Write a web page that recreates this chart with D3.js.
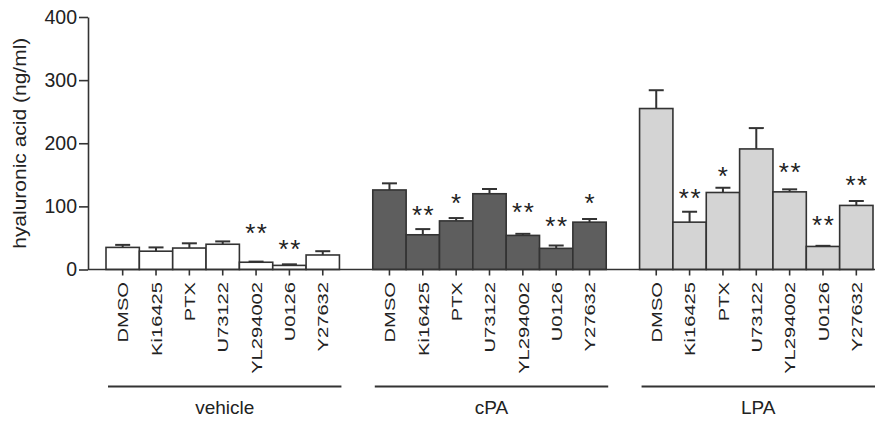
<!DOCTYPE html>
<html>
<head>
<meta charset="utf-8">
<script src="https://cdn.jsdelivr.net/npm/d3@7"></script>
<style>
body { margin: 0; background: #fff; }
text { font-family: "Liberation Sans", Arial, sans-serif; fill: #222; }
</style>
</head>
<body>
<script>
var w = 875;
var h = 422;

// data
var groups = ["vehicle", "cPA", "LPA"];
var treatments = ["DMSO", "Ki16425", "PTX", "U73122", "YL294002", "U0126", "Y27632"];
var yTicks = [0, 100, 200, 300, 400];

var vehicleMean = [35, 29, 34, 40, 11.5, 6.5, 23];
var vehicleErr  = [4, 6, 7.5, 4.5, 1, 1.7, 6];
var cpaMean = [126, 55, 77, 120, 54, 33.5, 75];
var cpaErr  = [10.5, 9, 4.5, 7.5, 2.5, 4.5, 5];
var lpaMean = [255, 75, 122, 191, 123, 36.5, 101.5];
var lpaErr  = [29, 16.5, 7.5, 33, 4, 1, 7];

// significance marks and where they sit (in ng/ml units)
var vehicleSig = ["", "", "", "", "**", "**", ""];
var vehicleSigAt = [0, 0, 0, 0, 67, 42, 0];
var cpaSig = ["", "**", "*", "", "**", "**", "*"];
var cpaSigAt = [0, 96, 114, 0, 99.5, 78.5, 114];
var lpaSig = ["", "**", "*", "", "**", "**", "**"];
var lpaSigAt = [0, 122, 158, 0, 164, 79.5, 143];

var fills = ["#ffffff", "#5e5e5e", "#d4d4d4"];

var means = [vehicleMean, cpaMean, lpaMean];
var errs = [vehicleErr, cpaErr, lpaErr];
var sigs = [vehicleSig, cpaSig, lpaSig];
var sigAt = [vehicleSigAt, cpaSigAt, lpaSigAt];

var rows = [];
groups.forEach(function(g, gi){
    treatments.forEach(function(t, ti){
        rows.push({group: g, gi: gi, t: t, v: means[gi][ti], e: errs[gi][ti], sig: sigs[gi][ti], sigAt: sigAt[gi][ti]});
    });
});

var axisX = 88;
var y = d3.scaleLinear().domain([0, 400]).range([269.5, 17]);
var outer = d3.scaleBand().domain(groups).range([106, 873]).paddingInner(1/8).paddingOuter(0);
var inner = d3.scaleBand().domain(treatments).range([0, outer.bandwidth()]);

var svg = d3.select("body").append("svg")
    .attr("width", w)
    .attr("height", h);

// bars
var bars = svg.selectAll("g.bar")
    .data(rows)
    .enter()
    .append("g")
    .attr("class", "bar")
    .attr("transform", function(d){ return "translate(" + (outer(d.group) + inner(d.t)) + ",0)"; });

var bw = inner.bandwidth();
bars.append("line") // error bar
    .attr("x1", bw/2).attr("x2", bw/2)
    .attr("y1", function(d){ return y(d.v); })
    .attr("y2", function(d){ return y(d.v + d.e); })
    .attr("stroke", "#333").attr("stroke-width", 2);
bars.append("line") // cap
    .attr("x1", bw/2 - 7.5).attr("x2", bw/2 + 7.5)
    .attr("y1", function(d){ return y(d.v + d.e); })
    .attr("y2", function(d){ return y(d.v + d.e); })
    .attr("stroke", "#333").attr("stroke-width", 2);
bars.append("rect")
    .attr("x", 0)
    .attr("width", bw)
    .attr("y", function(d){ return y(d.v); })
    .attr("height", function(d){ return y(0) - y(d.v); })
    .attr("fill", function(d){ return fills[d.gi]; })
    .attr("stroke", "#333")
    .attr("stroke-width", 1.6);

bars.filter(function(d){ return d.sig; })
    .append("text")
    .attr("x", bw/2 + 0.8)
    .attr("y", function(d){ return y(d.sigAt) + 14.8; })
    .attr("text-anchor", "middle")
    .style("font-size", "26px")
    .style("letter-spacing", "1.6px")
    .text(function(d){ return d.sig; });

// y axis
var yAxis = svg.append("g")
    .attr("transform", "translate(" + axisX + ",0)")
    .call(d3.axisLeft(y).tickValues(yTicks).tickSize(9).tickSizeOuter(0).tickPadding(2));
yAxis.selectAll("path, line").attr("stroke", "#333").attr("stroke-width", 1.6);
yAxis.selectAll("text").style("font-size", "19.5px").style("font-family", "'Liberation Sans', Arial, sans-serif").attr("fill", "#222");

svg.append("text")
    .attr("transform", "translate(25.5," + y(200) + ") rotate(-90) scale(1.2,1)")
    .attr("text-anchor", "middle")
    .style("font-size", "17.5px")
    .text("hyaluronic acid (ng/ml)");

// x axis baseline
svg.append("line")
    .attr("x1", axisX).attr("x2", w)
    .attr("y1", y(0)).attr("y2", y(0))
    .attr("stroke", "#333").attr("stroke-width", 1.6);

groups.forEach(function(g){
    var ax = svg.append("g")
        .attr("transform", "translate(" + outer(g) + "," + y(0) + ")")
        .call(d3.axisBottom(inner).tickSize(6).tickSizeOuter(0));
    ax.select(".domain").remove();
    ax.selectAll("line").attr("stroke", "#333").attr("stroke-width", 1.6);
    ax.selectAll("text")
        .attr("fill", "#222")
        .style("font-size", "15.5px")
        .style("font-family", "'Liberation Sans', Arial, sans-serif")
        .attr("text-anchor", "end")
        .attr("dy", null)
        .attr("y", 0)
        .attr("transform", "translate(5.7,12.5) rotate(-90) scale(1.3,1)");

    // group underline and name
    svg.append("line")
        .attr("x1", outer(g) + 2).attr("x2", outer(g) + outer.bandwidth() + 2)
        .attr("y1", 386.5).attr("y2", 386.5)
        .attr("stroke", "#333").attr("stroke-width", 2);
    svg.append("text")
        .attr("x", outer(g) + outer.bandwidth()/2 + 2)
        .attr("y", 414)
        .attr("text-anchor", "middle")
        .style("font-size", "19px")
        .text(g);
});
</script>
</body>
</html>
